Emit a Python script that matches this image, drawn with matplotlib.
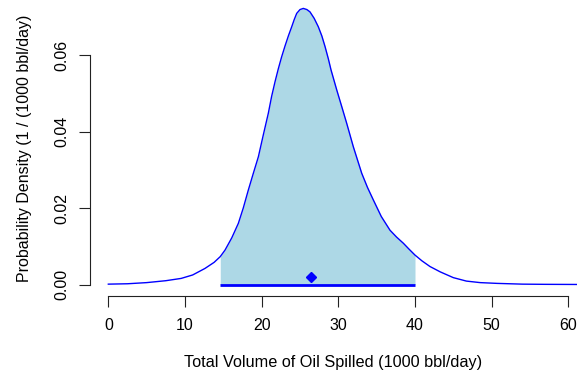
import matplotlib
matplotlib.use("Agg")
import matplotlib.pyplot as plt
import numpy as np

plt.rcParams['font.family'] = ['Liberation Sans', 'DejaVu Sans']

# Density curve
volume = [0, 2.5, 5, 7.5, 9.5, 11, 12.6, 13.8, 14.6, 15.22, 16.1, 16.96, 17.6, 18.26,
          18.9, 19.57, 20.2, 20.87, 21.3, 21.74, 22.17, 22.6, 23.05, 23.5, 23.92, 24.25,
          24.57, 25.0, 25.43, 25.9, 26.3, 26.85, 27.39, 27.85, 28.27, 28.7, 29.05, 29.79,
          30.45, 31.1, 31.96, 33.05, 33.8, 34.57, 35.6, 36.74, 37.6, 38.48, 39.2, 40.0,
          40.9, 41.96, 43.3, 45.0, 46.7, 48.5, 50.7, 54.0, 57.0, 62.0]
density = [0.0001, 0.0002, 0.0005, 0.0010, 0.0016, 0.0025, 0.0042, 0.0058, 0.0073,
           0.0090, 0.0122, 0.0160, 0.0200, 0.0247, 0.0290, 0.0334, 0.0390, 0.0448,
           0.0492, 0.0530, 0.0564, 0.0595, 0.0624, 0.0651, 0.0674, 0.0693, 0.0709,
           0.0719, 0.0722, 0.0719, 0.0713, 0.0696, 0.0674, 0.0650, 0.0622, 0.0590,
           0.0561, 0.0509, 0.0465, 0.0421, 0.0360, 0.0291, 0.0254, 0.0221, 0.0178,
           0.0142, 0.0124, 0.0108, 0.0093, 0.0077, 0.0062, 0.0047, 0.0033, 0.0018,
           0.0009, 0.0005, 0.0003, 0.0001, 0.00005, 0.00001]

ci_low, ci_high = 14.6, 40.0
point_x, point_y = 26.5, 0.002

xticks = [0, 10, 20, 30, 40, 50, 60]
yticks = [0.00, 0.02, 0.04, 0.06]
ytick_labels = ["0.00", "0.02", "0.04", "0.06"]

W, H = 577, 374
fig = plt.figure(figsize=(W / 100, H / 100), dpi=100)
ax = fig.add_axes([90 / W, 78 / H, (W - 90) / W, (H - 78) / H])

vx = np.array(volume)
vy = np.array(density)
mask = (vx >= ci_low) & (vx <= ci_high)
ax.fill_between(vx[mask], 0, vy[mask], color='#ADD8E6', linewidth=0)
ax.plot(vx, vy, color='#0000FF', lw=1.0)
ax.plot([ci_low, ci_high], [0, 0], color='#0000FF', lw=2.0, solid_capstyle='butt')
ax.plot([point_x], [point_y], marker='D', color='#0000FF', markersize=5, linestyle='none')

ax.set_xlim(-2.39, 61.13)
ax.set_ylim(-0.0030, 0.0744)

for s in ['top', 'right']:
    ax.spines[s].set_visible(False)
ax.spines['bottom'].set_bounds(0, 60)
ax.spines['left'].set_bounds(0, 0.06)
for s in ['bottom', 'left']:
    ax.spines[s].set_color('#222222')
    ax.spines[s].set_linewidth(0.8)

ax.set_xticks(xticks)
ax.set_xticklabels([str(t) for t in xticks])
ax.set_yticks(yticks)
ax.set_yticklabels(ytick_labels, rotation=90, va='center')
ax.tick_params(axis='both', length=8, width=0.8, color='#222222', labelsize=11.5)
ax.tick_params(axis='x', pad=8)
ax.tick_params(axis='y', pad=7)

ax.set_xlabel("Total Volume of Oil Spilled (1000 bbl/day)", fontsize=11.7, labelpad=16)
ax.set_ylabel("Probability Density (1 / (1000 bbl/day)", fontsize=11.5, labelpad=16)

fig.savefig("out.png", dpi=100)
